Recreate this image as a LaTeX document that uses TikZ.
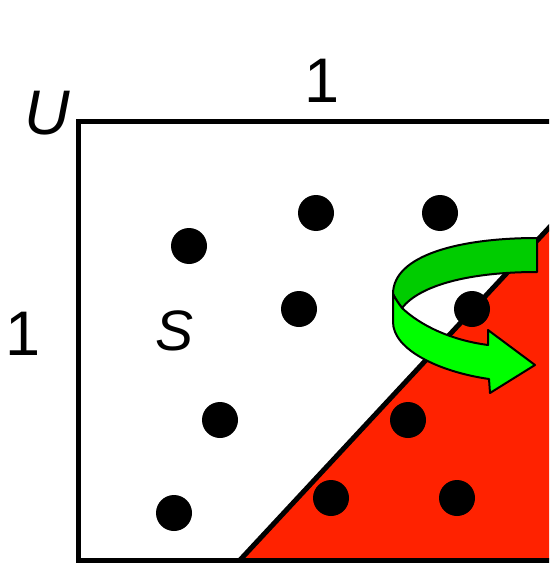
\documentclass[tikz,border=0pt]{standalone}
\usepackage{fontspec}
\setmainfont{Liberation Sans}
\definecolor{cutred}{RGB}{255,34,0}
\definecolor{bandback}{RGB}{0,204,0}
\definecolor{bandfront}{RGB}{0,255,0}

\begin{document}
\begin{tikzpicture}[x=1pt,y=-1pt,line join=miter,
  edge/.style={line width=5pt},
  band/.style={draw=black,line width=2pt,line join=round},
  lbl/.style={anchor=base,inner sep=0pt,font=\fontsize{63}{63}\selectfont}]
\useasboundingbox (0,0) rectangle (549,564);
\begin{scope}
\clip (0,0) rectangle (549,564);
% cut-off half of U
\fill[cutred] (240,560) -- (572,203) -- (572,560) -- cycle;
\draw[edge] (240,560) -- (572,203);
\draw[edge] (78.5,121.5) rectangle (572,560);
% points of S
\foreach \x/\y in {316/213,440/213,189/246,299/309,472/309,220/420,408/420,174/513,331/498,457/498}
  \fill (\x,\y) circle (18pt);
% turning arrow
\draw[band,fill=bandback] (537,238) .. controls (460,238) and (393,255) .. (393,294)
  .. controls (396,300) and (399,304) .. (402,308)
  .. controls (420,285) and (470,272) .. (537,272) -- cycle;
\draw[band,fill=bandfront] (393,294) .. controls (396,300) and (399,304) .. (402,308)
  .. controls (420,325) and (450,340) .. (488,345) -- (488,330) -- (535,365)
  -- (490,393) -- (489,379) .. controls (440,372) and (393,350) .. (393,322) -- cycle;
\end{scope}
\node[lbl] (lblU) at (47,135) {\textit{U}};
\node[lbl] (lbltop) at (322,103) {1};
\node[lbl] (lblleft) at (23,355) {1};
\node[lbl,font=\fontsize{57}{57}\selectfont] (lblS) at (175,350) {\textit{S}};
\end{tikzpicture}
\end{document}
